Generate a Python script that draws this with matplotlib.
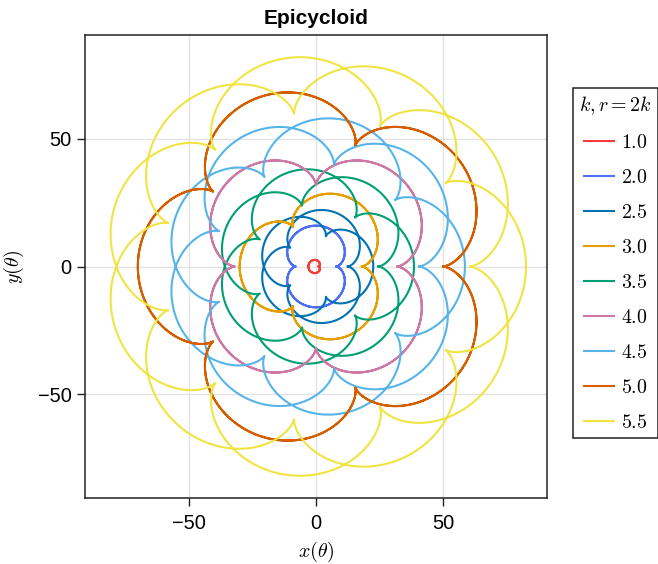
import numpy as np
import matplotlib
matplotlib.use("Agg")
import matplotlib.pyplot as plt

# curve parameters
kValues = [1.0, 2.0, 2.5, 3.0, 3.5, 4.0, 4.5, 5.0, 5.5]
rValues = [1.0, 4.0, 5.0, 6.0, 7.0, 8.0, 9.0, 10.0, 11.0]
labels = ["1.0", "2.0", "2.5", "3.0", "3.5", "4.0", "4.5", "5.0", "5.5"]
colors = ["#f73c3c", "#4d6ff5", "#0072B2", "#E69F00", "#009E73",
          "#CC79A7", "#56B4E9", "#D55E00", "#F0E442"]
ticks = [-50, 0, 50]
tickLabels = ["\u221250", "0", "50"]


def epicycloid(theta, k, r):
	x = r * (k + 1) * np.cos(theta) - r * np.cos((k + 1) * theta)
	y = r * (k + 1) * np.sin(theta) - r * np.sin((k + 1) * theta)
	return x, y


def main():
	plt.rcParams['mathtext.fontset'] = 'cm'
	plt.rcParams['font.family'] = ['Liberation Sans', 'DejaVu Sans']

	fig = plt.figure(figsize=(6.58, 5.64), dpi=100)
	ax = fig.add_axes([85 / 658, 1 - 498 / 564, 462 / 658, 463 / 564])

	theta = np.linspace(0, 4 * np.pi, 3000)
	for k, r, lab, col in zip(kValues, rValues, labels, colors):
		x, y = epicycloid(theta, k, r)
		ax.plot(x, y, color=col, lw=1.5, label="$" + lab + "$")

	ax.set_xlim(-90.75, 90.75)
	ax.set_ylim(-90.75, 90.75)
	ax.set_xticks(ticks)
	ax.set_yticks(ticks)
	ax.set_xticklabels(tickLabels)
	ax.set_yticklabels(tickLabels)
	ax.tick_params(labelsize=14.4, length=5.8, width=1, color="#222222", pad=4)
	ax.tick_params(axis="x", pad=6)
	ax.grid(True, color="#e3e3e3", lw=1)
	ax.set_axisbelow(True)
	for s in ax.spines.values():
		s.set_linewidth(1.1)
		s.set_color("#222222")

	ax.set_xlabel(r"$x(\theta)$", fontsize=14.4, labelpad=5)
	ax.set_ylabel(r"$y(\theta)$", fontsize=14.4, labelpad=8)
	ax.set_title("Epicycloid", fontsize=15, fontweight="bold", pad=8)

	leg = fig.legend(loc="upper left", bbox_to_anchor=(573 / 658, 1 - 88 / 564),
		bbox_transform=fig.transFigure, borderaxespad=0, fontsize=14.4,
		title=r"$k, r = 2k$", title_fontsize=14.4, fancybox=False,
		framealpha=1, edgecolor="#222222", handlelength=1.5,
		handletextpad=0.35, labelspacing=0.8, borderpad=0.3)
	leg.get_frame().set_linewidth(1.1)

	fig.savefig("out.png", dpi=100)


if __name__ == "__main__":
	main()
